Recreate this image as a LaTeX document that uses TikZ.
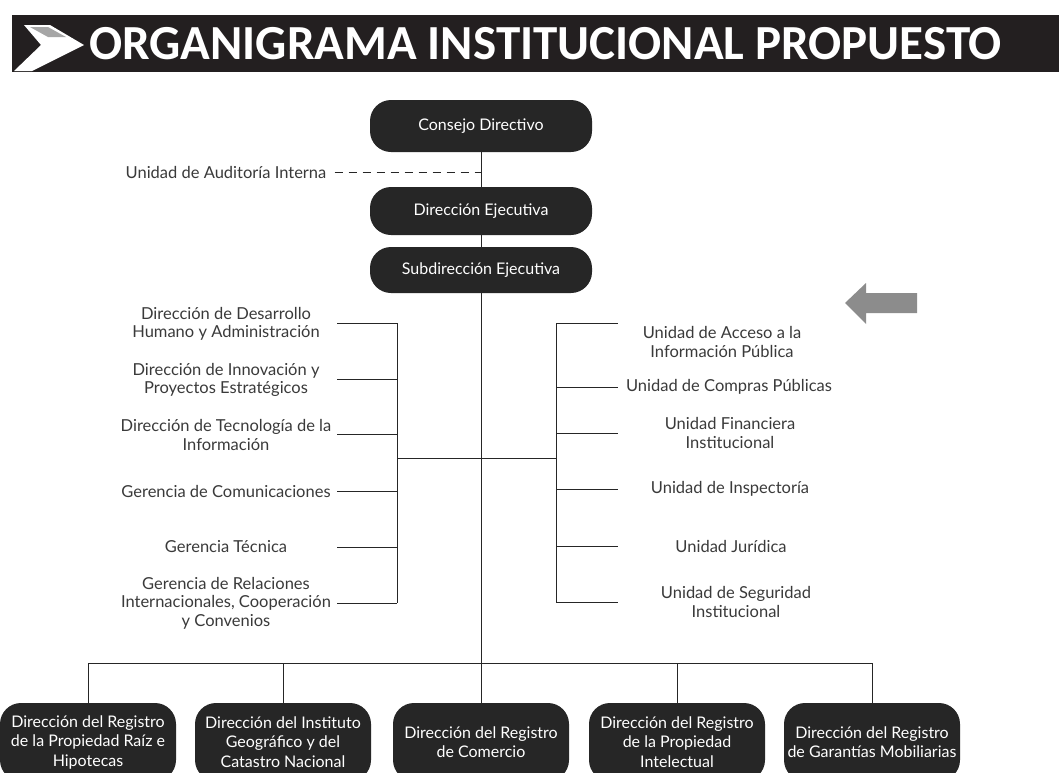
\documentclass[tikz,border=0pt]{standalone}
\usepackage{fontspec}
\setmainfont{Lato}
\newfontfamily\titlefont{Carlito}
\definecolor{boxfill}{HTML}{262626}
\definecolor{barfill}{HTML}{231F20}
\definecolor{labelgray}{HTML}{3A3A3A}
\definecolor{arrowgray}{HTML}{8C8C8C}
\tikzset{
  orgbox/.style={fill=boxfill, rounded corners=21pt, text=white, align=center,
    font=\fontsize{16}{19.5}\selectfont, inner sep=0pt},
  topbox/.style={orgbox, minimum width=222pt},
  botbox/.style={orgbox, minimum width=176pt, minimum height=78pt},
  unitlabel/.style={text=labelgray, align=center, font=\fontsize{16.5}{18.5}\selectfont, inner sep=2pt},
  link/.style={draw=black!85, line width=1pt},
  dashlink/.style={link, dash pattern=on 8pt off 6pt},
}
\begin{document}
\begin{tikzpicture}[x=1pt, y=-1pt]
\clip (0,0) rectangle (1059,772);
\fill[white] (0,0) rectangle (1059,772);

% title bar
\fill[barfill] (12,15) rectangle (1059,72);
\fill[white] (24,25) -- (50,25) -- (84,45) -- (32,71) -- (14,71) -- (41,45) -- cycle;
\fill[black!35] (30,27) -- (48,27) -- (66,37) -- (48,37) -- cycle;
\node[anchor=west, text=white, font=\titlefont\bfseries\fontsize{49}{52}\selectfont, inner sep=0pt] (title) at (89,44) {ORGANIGRAMA INSTITUCIONAL PROPUESTO};

% top boxes
\node[topbox, minimum height=52pt] (cd) at (481,126) {Consejo Directivo};
\node[topbox, minimum height=48pt] (de) at (481,211) {Dirección Ejecutiva};
\node[topbox, minimum height=46pt] (se) at (481,270) {Subdirección Ejecutiva};

% bottom boxes
\node[botbox] (b1) at (88,742)  {Dirección del Registro\\de la Propiedad Raíz e\\Hipotecas};
\node[botbox] (b2) at (283,742) {Dirección del Instituto\\Geográfico y del\\Catastro Nacional};
\node[botbox] (b3) at (481,742) {Dirección del Registro\\de Comercio};
\node[botbox] (b4) at (677,742) {Dirección del Registro\\de la Propiedad\\Intelectual};
\node[botbox] (b5) at (872,742) {Dirección del Registro\\de Garantías Mobiliarias};

% audit
\node[unitlabel] (aud) at (226,172) {Unidad de Auditoría Interna};
\coordinate (audj) at (481,172);
\draw[dashlink] ([xshift=6pt]aud.east) -- (audj);

% main spine
\draw[link] (cd) -- (de);
\draw[link] (de) -- (se);
\draw[link] (se) -- (b3);

% left labels
\node[unitlabel] (l1) at (226,324) {Dirección de Desarrollo\\Humano y Administración};
\node[unitlabel] (l2) at (226,380) {Dirección de Innovación y\\Proyectos Estratégicos};
\node[unitlabel] (l3) at (226,435) {Dirección de Tecnología de la\\Información};
\node[unitlabel] (l4) at (226,491) {Gerencia de Comunicaciones};
\node[unitlabel] (l5) at (226,547) {Gerencia Técnica};
\node[unitlabel] (l6) at (226,603) {Gerencia de Relaciones\\Internacionales, Cooperación\\y Convenios};

\foreach \i/\yy in {1/323,2/379,3/434,4/491,5/547,6/603}{
  \coordinate (ls\i) at (337,\yy);
  \coordinate (lb\i) at (397,\yy);
  \draw[link] (ls\i) -- (lb\i);
}
\draw[link] (lb1) -- (lb6);

% right labels
\node[unitlabel] (r1) at (722,342) {Unidad de Acceso a la\\Información Pública};
\node[unitlabel] (r2) at (729,387) {Unidad de Compras Públicas};
\node[unitlabel] (r3) at (730,433) {Unidad Financiera\\Institucional};
\node[unitlabel] (r4) at (730,489) {Unidad de Inspectoría};
\node[unitlabel] (r5) at (731,546) {Unidad Jurídica};
\node[unitlabel] (r6) at (736,602) {Unidad de Seguridad\\Institucional};

\foreach \i/\yy in {1/323,2/387,3/433,4/489,5/546,6/602}{
  \coordinate (rb\i) at (556,\yy);
  \coordinate (rs\i) at (618,\yy);
  \draw[link] (rb\i) -- (rs\i);
}
\draw[link] (rb1) -- (rb6);

% cross link
\coordinate (lj) at (397,458);
\coordinate (rj) at (556,458);
\draw[link] (lj) -- (rj);

% bottom bus
\coordinate (bus1) at (88,663);
\coordinate (bus2) at (283,663);
\coordinate (bus4) at (677,663);
\coordinate (bus5) at (872,663);
\draw[link] (bus1) -- (bus5);
\draw[link] (bus1) -- (b1);
\draw[link] (bus2) -- (b2);
\draw[link] (bus4) -- (b4);
\draw[link] (bus5) -- (b5);

% gray arrow
\fill[arrowgray] (845,303) -- (866,283) -- (866,293) -- (917,293) -- (917,313) -- (866,313) -- (866,324) -- cycle;
\end{tikzpicture}
\end{document}
